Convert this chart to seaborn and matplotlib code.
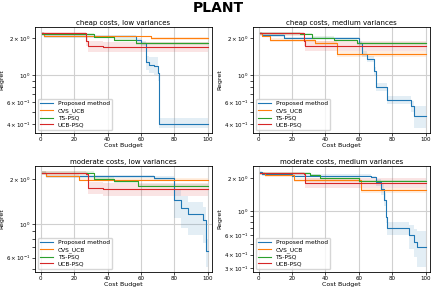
import numpy as np
import pandas as pd
import seaborn as sns
import matplotlib
matplotlib.use("Agg")
import matplotlib.pyplot as plt

methods = ["Proposed method", "CVS_UCB", "TS-PSQ", "UCB-PSQ"]
colors  = ["#1f77b4", "#ff7f0e", "#2ca02c", "#d62728"]
titles  = ["cheap costs, low variances", "cheap costs, medium variances",
           "moderate costs, low variances", "moderate costs, medium variances"]

# breakpoints (x), mean regret, band low, band high
# cheap costs, low variances
cl_prop_x  = [1, 2, 57, 60, 63, 65, 68, 70, 71, 100]
cl_prop_y  = [2.2, 2.08, 1.95, 1.82, 1.28, 1.22, 1.2, 1.05, 0.40, 0.40]
cl_prop_lo = [2.15, 2.03, 1.88, 1.72, 1.1, 1.05, 1.0, 0.9, 0.37, 0.37]
cl_prop_hi = [2.25, 2.13, 2.02, 1.92, 1.45, 1.4, 1.4, 1.2, 0.45, 0.45]
cl_cvs_x   = [1, 2, 66, 100]
cl_cvs_y   = [2.2, 2.08, 2.0, 2.0]
cl_cvs_lo  = [2.15, 2.05, 1.96, 1.96]
cl_cvs_hi  = [2.25, 2.11, 2.04, 2.04]
cl_ts_x    = [1, 32, 44, 57, 100]
cl_ts_y    = [2.18, 2.05, 1.95, 1.82, 1.82]
cl_ts_lo   = [2.13, 2.0, 1.9, 1.78, 1.78]
cl_ts_hi   = [2.23, 2.1, 2.0, 1.86, 1.86]
cl_ucb_x   = [1, 27, 28, 37, 100]
cl_ucb_y   = [2.2, 1.92, 1.73, 1.70, 1.70]
cl_ucb_lo  = [2.1, 1.75, 1.55, 1.55, 1.55]
cl_ucb_hi  = [2.25, 2.1, 1.9, 1.88, 1.88]

# cheap costs, medium variances
cm_prop_x  = [1, 2, 15, 60, 62, 65, 69, 70, 77, 91, 93, 100]
cm_prop_y  = [2.2, 2.12, 2.02, 1.82, 1.5, 1.36, 1.08, 0.8, 0.63, 0.56, 0.46, 0.46]
cm_prop_lo = [2.15, 2.07, 1.97, 1.75, 1.42, 1.28, 1.0, 0.74, 0.58, 0.5, 0.37, 0.37]
cm_prop_hi = [2.25, 2.17, 2.07, 1.9, 1.58, 1.45, 1.16, 0.87, 0.68, 0.62, 0.56, 0.56]
cm_cvs_x   = [1, 2, 7, 34, 47, 100]
cm_cvs_y   = [2.2, 2.1, 1.94, 1.85, 1.5, 1.5]
cm_cvs_lo  = [2.15, 2.05, 1.88, 1.78, 1.42, 1.42]
cm_cvs_hi  = [2.25, 2.15, 2.0, 1.92, 1.58, 1.58]
cm_ts_x    = [1, 25, 32, 45, 59, 100]
cm_ts_y    = [2.2, 2.17, 2.03, 1.94, 1.82, 1.82]
cm_ts_lo   = [2.15, 2.12, 1.98, 1.89, 1.78, 1.78]
cm_ts_hi   = [2.25, 2.22, 2.08, 1.99, 1.86, 1.86]
cm_ucb_x   = [1, 27, 28, 100]
cm_ucb_y   = [2.2, 1.92, 1.74, 1.74]
cm_ucb_lo  = [2.1, 1.75, 1.58, 1.58]
cm_ucb_hi  = [2.25, 2.1, 1.9, 1.9]

# moderate costs, low variances
ml_prop_x  = [1, 3, 68, 80, 84, 88, 97, 99, 100]
ml_prop_y  = [2.2, 2.08, 2.02, 1.45, 1.29, 1.17, 1.06, 0.66, 0.66]
ml_prop_lo = [2.15, 2.03, 1.96, 1.1, 0.95, 0.85, 0.75, 0.52, 0.52]
ml_prop_hi = [2.25, 2.12, 2.08, 1.7, 1.55, 1.4, 1.3, 0.8, 0.8]
ml_cvs_x   = [1, 3, 23, 100]
ml_cvs_y   = [2.2, 2.1, 1.98, 1.98]
ml_cvs_lo  = [2.15, 2.06, 1.94, 1.94]
ml_cvs_hi  = [2.25, 2.14, 2.02, 2.02]
ml_ts_x    = [1, 32, 44, 58, 100]
ml_ts_y    = [2.2, 2.0, 1.93, 1.8, 1.8]
ml_ts_lo   = [2.15, 1.95, 1.88, 1.76, 1.76]
ml_ts_hi   = [2.25, 2.05, 1.98, 1.84, 1.84]
ml_ucb_x   = [1, 27, 28, 37, 100]
ml_ucb_y   = [2.2, 2.15, 1.74, 1.7, 1.7]
ml_ucb_lo  = [2.12, 2.05, 1.58, 1.55, 1.55]
ml_ucb_hi  = [2.25, 2.22, 1.9, 1.88, 1.88]

# moderate costs, medium variances
mm_prop_x  = [1, 2, 20, 67, 70, 73, 75, 76, 77, 90, 93, 95, 100]
mm_prop_y  = [2.25, 2.15, 2.1, 2.04, 1.83, 1.58, 1.27, 0.88, 0.7, 0.6, 0.52, 0.47, 0.47]
mm_prop_lo = [2.2, 2.1, 2.05, 1.98, 1.7, 1.4, 1.1, 0.78, 0.6, 0.45, 0.38, 0.31, 0.31]
mm_prop_hi = [2.3, 2.2, 2.15, 2.1, 1.95, 1.75, 1.45, 1.0, 0.8, 0.75, 0.68, 0.66, 0.66]
mm_cvs_x   = [1, 4, 21, 61, 100]
mm_cvs_y   = [2.2, 2.12, 1.92, 1.54, 1.54]
mm_cvs_lo  = [2.15, 2.05, 1.85, 1.46, 1.46]
mm_cvs_hi  = [2.25, 2.18, 1.99, 1.62, 1.62]
mm_ts_x    = [1, 31, 37, 60, 100]
mm_ts_y    = [2.2, 2.12, 2.0, 1.87, 1.87]
mm_ts_lo   = [2.15, 2.06, 1.95, 1.82, 1.82]
mm_ts_hi   = [2.25, 2.18, 2.05, 1.92, 1.92]
mm_ucb_x   = [1, 27, 28, 100]
mm_ucb_y   = [2.2, 2.15, 1.8, 1.8]
mm_ucb_lo  = [2.12, 2.05, 1.62, 1.62]
mm_ucb_hi  = [2.25, 2.22, 1.98, 1.98]

panels = [
    [(cl_prop_x, cl_prop_y, cl_prop_lo, cl_prop_hi), (cl_cvs_x, cl_cvs_y, cl_cvs_lo, cl_cvs_hi),
     (cl_ts_x, cl_ts_y, cl_ts_lo, cl_ts_hi), (cl_ucb_x, cl_ucb_y, cl_ucb_lo, cl_ucb_hi)],
    [(cm_prop_x, cm_prop_y, cm_prop_lo, cm_prop_hi), (cm_cvs_x, cm_cvs_y, cm_cvs_lo, cm_cvs_hi),
     (cm_ts_x, cm_ts_y, cm_ts_lo, cm_ts_hi), (cm_ucb_x, cm_ucb_y, cm_ucb_lo, cm_ucb_hi)],
    [(ml_prop_x, ml_prop_y, ml_prop_lo, ml_prop_hi), (ml_cvs_x, ml_cvs_y, ml_cvs_lo, ml_cvs_hi),
     (ml_ts_x, ml_ts_y, ml_ts_lo, ml_ts_hi), (ml_ucb_x, ml_ucb_y, ml_ucb_lo, ml_ucb_hi)],
    [(mm_prop_x, mm_prop_y, mm_prop_lo, mm_prop_hi), (mm_cvs_x, mm_cvs_y, mm_cvs_lo, mm_cvs_hi),
     (mm_ts_x, mm_ts_y, mm_ts_lo, mm_ts_hi), (mm_ucb_x, mm_ucb_y, mm_ucb_lo, mm_ucb_hi)],
]

plt.rcParams['font.family'] = ['DejaVu Sans']
fig, axes = plt.subplots(2, 2, figsize=(4.36, 2.89), dpi=100)
fig.subplots_adjust(left=0.08, right=0.986, top=0.905, bottom=0.06, wspace=0.23, hspace=0.32)
fig.suptitle("PLANT", fontsize=10, fontweight="bold", y=0.995)

for ax, title, series in zip(axes.flat, titles, panels):
    ax.grid(True, color="#d0d0d0", linewidth=0.8)
    ax.set_axisbelow(True)
    for name, col, (x, y, lo, hi) in zip(methods, colors, series):
        ax.fill_between(x, lo, hi, step="post", color=col, alpha=0.12, linewidth=0)
        sns.lineplot(x=x, y=y, drawstyle="steps-post", color=col, linewidth=0.8,
                     label=name, ax=ax)
    ax.set_yscale("log")
    ax.set_xlim(-3.5, 102.5)
    ax.set_xticks([0, 20, 40, 60, 80, 100])
    ax.set_title(title, fontsize=5, pad=2)
    ax.set_xlabel("Cost Budget", fontsize=4.5, labelpad=1)
    ax.set_ylabel("Regret", fontsize=4.5, labelpad=1)
    ax.tick_params(axis="both", which="both", labelsize=4, length=2, width=0.5, pad=1)
    for s in ax.spines.values():
        s.set_linewidth(0.6)
    ax.legend(loc="lower left", fontsize=4.2, frameon=True, handlelength=2.2,
              borderpad=0.4, labelspacing=0.3)

fig.savefig("out.png", dpi=100)
